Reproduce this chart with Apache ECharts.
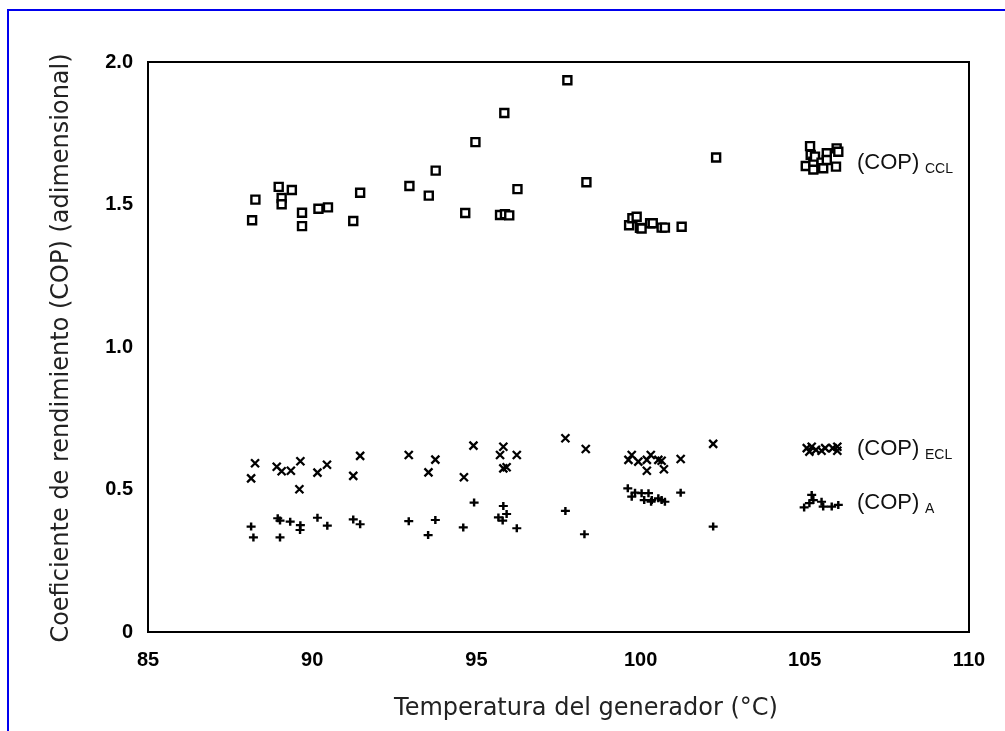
<!DOCTYPE html>
<html>
<head>
<meta charset="utf-8">
<script src="https://cdn.jsdelivr.net/npm/echarts@6/dist/echarts.min.js"></script>
<style>html,body{margin:0;padding:0;background:#fff}#c{width:1005px;height:731px}</style>
</head>
<body>
<div id="c"></div>
<script>
// (COP)CCL - squares
const cclT = [88.17,88.27,88.98,89.07,89.07,89.38,89.69,89.69,90.19,90.48,91.25,91.46,92.96,93.55,93.76,94.66,94.97,95.85,95.72,95.87,96.0,96.25,97.77,98.35,99.65,99.75,99.88,99.98,100.03,100.29,100.37,100.64,100.74,101.25,102.3,105.03,105.16,105.18,105.26,105.26,105.31,105.51,105.56,105.67,105.67,105.95,105.97,106.02];
const cclCOP = [1.445,1.517,1.562,1.523,1.501,1.551,1.471,1.424,1.485,1.490,1.442,1.541,1.565,1.531,1.619,1.470,1.719,1.821,1.463,1.466,1.462,1.554,1.936,1.578,1.427,1.452,1.457,1.418,1.416,1.434,1.434,1.419,1.419,1.422,1.665,1.635,1.705,1.674,1.623,1.650,1.668,1.647,1.627,1.680,1.656,1.633,1.697,1.685];
// (COP)ECL - crosses
const eclT = [88.14,88.26,88.92,89.07,89.35,89.61,89.64,90.16,90.45,91.25,91.46,92.94,93.54,93.75,94.62,94.91,95.72,95.82,95.82,95.92,96.23,97.71,98.33,99.63,99.73,99.93,100.19,100.19,100.31,100.54,100.64,100.71,101.22,102.21,105.06,105.14,105.21,105.34,105.51,105.62,105.85,105.99,105.99];
const eclCOP = [0.539,0.592,0.580,0.564,0.566,0.501,0.599,0.559,0.587,0.548,0.618,0.621,0.560,0.605,0.543,0.654,0.621,0.650,0.574,0.578,0.621,0.680,0.642,0.604,0.621,0.598,0.604,0.566,0.621,0.604,0.601,0.571,0.607,0.660,0.645,0.633,0.650,0.639,0.636,0.645,0.645,0.650,0.636];
// (COP)A - plus signs
const aT = [88.14,88.21,88.95,89.02,89.02,89.33,89.63,89.64,90.16,90.46,91.25,91.46,92.94,93.53,93.75,94.60,94.93,95.67,95.80,95.82,95.92,96.23,97.71,98.29,99.61,99.73,99.83,100.03,100.11,100.24,100.32,100.34,100.54,100.64,100.74,101.22,102.21,104.98,105.14,105.21,105.26,105.51,105.56,105.82,106.02];
const aCOP = [0.370,0.332,0.399,0.391,0.332,0.387,0.358,0.375,0.401,0.373,0.395,0.378,0.389,0.340,0.393,0.367,0.454,0.402,0.391,0.442,0.414,0.364,0.425,0.343,0.504,0.475,0.489,0.487,0.463,0.487,0.457,0.463,0.469,0.463,0.457,0.489,0.370,0.437,0.452,0.481,0.463,0.457,0.440,0.440,0.446];
const xTicks = [85,90,95,100,105,110];
const yTicks = [0,0.5,1.0,1.5,2.0];
const xTitle = 'Temperatura del generador (°C)';
const yTitle = 'Coeficiente de rendimiento (COP) (adimensional)';
const labelMain = ['(COP)', '(COP)', '(COP)'];
const labelSub = ['CCL', 'ECL', 'A'];

const zip = (a,b) => a.map((v,i)=>[v,b[i]]);
const chart = echarts.init(document.getElementById('c'), null, {renderer:'canvas'});
const G = {left:148, top:62, right:36, bottom:99};
const labelY = [163, 449, 503];
const tickFont = {fontFamily:'"Liberation Sans", Arial, sans-serif', fontWeight:'bold', fontSize:20, color:'#000'};
const graphics = [
  {type:'rect', shape:{x:8,y:10,width:1200,height:900}, style:{fill:'none', stroke:'#0000ee', lineWidth:2}, z:-1},
  {type:'text', x:586, y:709, style:{text:xTitle, fontSize:24, fontFamily:'DejaVu Sans', fill:'#222', textAlign:'center', textVerticalAlign:'middle'}},
  {type:'text', x:62, y:348, rotation:Math.PI/2, style:{text:yTitle, fontSize:24, fontFamily:'DejaVu Sans', fill:'#222', textAlign:'center', textVerticalAlign:'middle'}}
];
labelMain.forEach((m,i)=>{
  const y = labelY[i];
  graphics.push({type:'text', x:857, y:y, style:{text:m, fontSize:22, fontFamily:'Liberation Sans', fill:'#111', textAlign:'left', textVerticalAlign:'middle'}});
  graphics.push({type:'text', x:925, y:y+6, style:{text:labelSub[i], fontSize:14, fontFamily:'Liberation Sans', fill:'#111', textAlign:'left', textVerticalAlign:'middle'}});
});
chart.setOption({
  animation:false,
  backgroundColor:'#fff',
  grid:{left:G.left, top:G.top, right:G.right, bottom:G.bottom, show:true, borderColor:'#000', borderWidth:2, backgroundColor:'transparent'},
  xAxis:{type:'value', min:xTicks[0], max:xTicks[xTicks.length-1], interval:5,
    axisLine:{show:false}, axisTick:{show:false}, splitLine:{show:false},
    axisLabel:Object.assign({margin:18}, tickFont)},
  yAxis:{type:'value', min:yTicks[0], max:yTicks[yTicks.length-1], interval:0.5,
    axisLine:{show:false}, axisTick:{show:false}, splitLine:{show:false},
    axisLabel:Object.assign({margin:15, formatter:v=> v===0?'0':v.toFixed(1)}, tickFont)},
  series:[
    {type:'scatter', data:zip(cclT,cclCOP), symbol:'rect', symbolSize:8, itemStyle:{color:'#fff', borderColor:'#000', borderWidth:2.4, opacity:1}},
    {type:'scatter', data:zip(eclT,eclCOP), symbol:'path://M0,0L10,10M10,0L0,10', symbolSize:[8,8], itemStyle:{color:'none', borderColor:'#000', borderWidth:2.3, opacity:1}},
    {type:'scatter', data:zip(aT,aCOP), symbol:'path://M5,0L5,10M0,5L10,5', symbolSize:[9,8], itemStyle:{color:'none', borderColor:'#000', borderWidth:2.3, opacity:1}}
  ],
  graphic:graphics
});
</script>
</body>
</html>
